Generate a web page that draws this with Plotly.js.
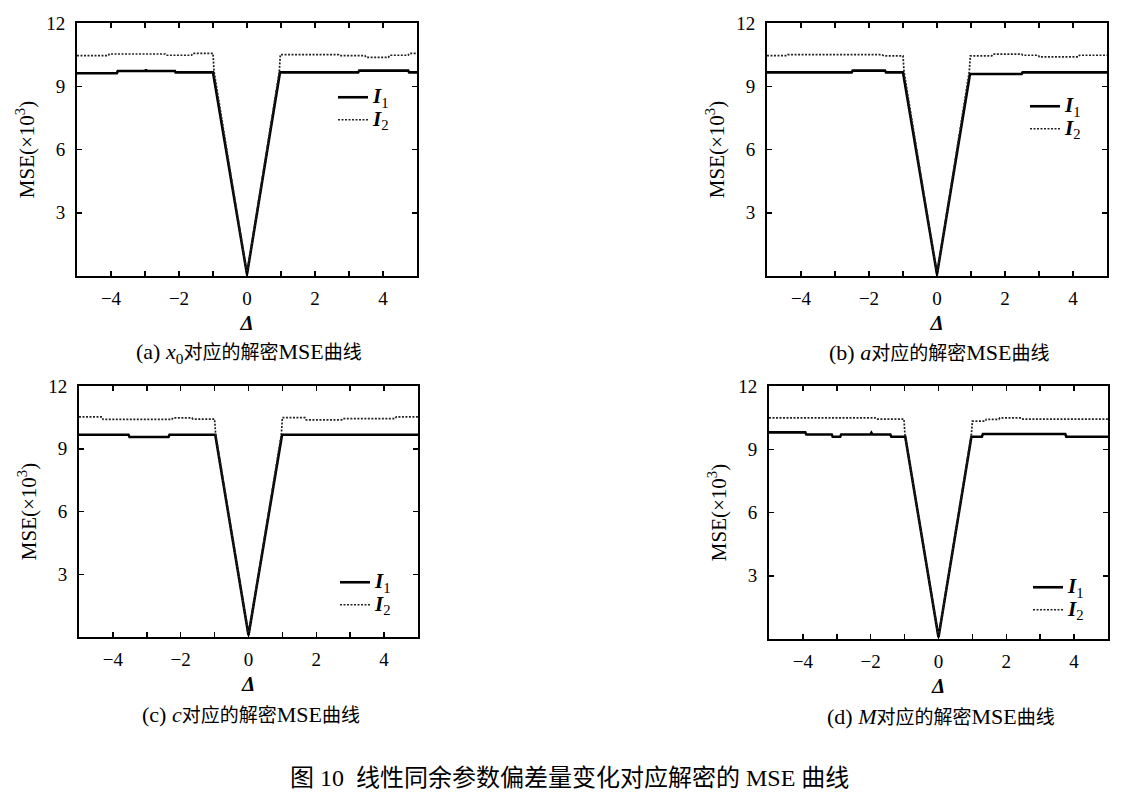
<!DOCTYPE html>
<html>
<head>
<meta charset="utf-8">
<script src="https://cdn.plot.ly/plotly-3.0.1.min.js"></script>
<style>
  html, body { margin: 0; padding: 0; background: #fff; }
  #chart { width: 1131px; height: 800px; }
</style>
</head>
<body>
<div id="chart"></div>
<script>
// ── Datos (MSE ×10^3 frente a Δ) ──────────────────────────────────────────
// (a) x0
const xA1 = [-5, -3.83, -3.80, -2.99, -2.97, -2.95, -2.12, -2.10, -1.00, 0, 0.97, 3.27, 3.30, 4.74, 4.77, 5];
const yA1 = [9.62, 9.62, 9.72, 9.72, 9.80, 9.72, 9.72, 9.66, 9.66, 0.08, 9.66, 9.66, 9.74, 9.74, 9.66, 9.66];
const xA2 = [-5, -4.08, -4.05, -2.41, -2.38, -1.63, -1.60, -1.00, -0.97, 0, 0.95, 0.98, 2.69, 2.72, 3.47, 3.50, 4.16, 4.19, 4.74, 4.77, 5];
const yA2 = [10.45, 10.45, 10.53, 10.53, 10.47, 10.47, 10.56, 10.56, 9.72, 0.1, 9.7, 10.50, 10.50, 10.45, 10.45, 10.37, 10.37, 10.47, 10.47, 10.56, 10.56];

// (b) a
const xB1 = [-5, -2.51, -2.48, -1.53, -1.50, -1.00, 0, 0.97, 2.49, 2.52, 5];
const yB1 = [9.66, 9.66, 9.74, 9.74, 9.66, 9.66, 0.08, 9.58, 9.58, 9.66, 9.66];
const xB2 = [-5, -4.42, -4.39, -1.63, -1.55, -1.00, -0.97, 0, 0.95, 0.98, 1.61, 1.64, 2.49, 2.52, 2.98, 3.01, 4.16, 4.19, 5];
const yB2 = [10.45, 10.45, 10.50, 10.50, 10.44, 10.44, 9.7, 0.1, 9.7, 10.44, 10.44, 10.52, 10.52, 10.47, 10.47, 10.39, 10.39, 10.47, 10.47];

// (c) c
const xC1 = [-5, -3.54, -3.51, -2.36, -2.33, -0.98, 0, 0.99, 5];
const yC1 = [9.67, 9.67, 9.56, 9.56, 9.67, 9.67, 0.08, 9.67, 9.67];
const xC2 = [-5, -4.32, -4.29, -2.26, -2.23, -1.67, -1.64, -1.00, -0.97, 0, 0.97, 1.00, 1.67, 1.70, 2.75, 2.78, 4.33, 4.36, 5];
const yC2 = [10.52, 10.52, 10.40, 10.40, 10.48, 10.48, 10.42, 10.42, 9.7, 0.1, 9.7, 10.49, 10.49, 10.38, 10.38, 10.44, 10.44, 10.52, 10.52];

// (d) M
const xD1 = [-5, -3.93, -3.90, -3.15, -3.12, -2.90, -2.87, -2.01, -1.98, -1.95, -1.42, -1.39, -0.98, 0, 0.97, 1.28, 1.31, 3.74, 3.77, 5];
const yD1 = [9.80, 9.80, 9.70, 9.70, 9.59, 9.59, 9.70, 9.70, 9.78, 9.70, 9.70, 9.59, 9.59, 0.08, 9.59, 9.59, 9.72, 9.72, 9.59, 9.59];
const xD2 = [-5, -1.87, -1.84, -1.02, -0.99, 0, 0.97, 1.00, 1.38, 1.41, 1.78, 1.81, 2.46, 2.49, 5];
const yD2 = [10.49, 10.49, 10.43, 10.43, 9.7, 0.1, 9.7, 10.33, 10.33, 10.42, 10.42, 10.49, 10.49, 10.43, 10.43];

const xTicks     = [-4, -3, -2, -1, 0, 1, 2, 3, 4];
const xTickText  = ['\u22124', '', '\u22122', '', '0', '', '2', '', '4'];
const yTicks     = [3, 6, 9, 12];
const seriesNames = [
  '<span style="font-size:21px"><b><i>I</i></b><sub>1</sub></span>',
  '<span style="font-size:21px"><b><i>I</i></b><sub>2</sub></span>'
];
const LAT = s => '<span style="font-size:22px">' + s + '</span>';
const captions = [
  LAT('(a) <i>x</i><sub>0</sub>') + '对应的解密' + LAT('MSE') + '曲线',
  LAT('(b) <i>a</i>') + '对应的解密' + LAT('MSE') + '曲线',
  LAT('(c) <i>c</i>') + '对应的解密' + LAT('MSE') + '曲线',
  LAT('(d) <i>M</i>') + '对应的解密' + LAT('MSE') + '曲线'
];
const figTitle = '图 10  线性同余参数偏差量变化对应解密的 MSE 曲线';

// ── Estilo ────────────────────────────────────────────────────────────────
const FONT = 'Liberation Serif, "Noto Sans CJK SC", serif';
const W = 1131, H = 800;

const panels = [
  { xs: [xA1, xA2], ys: [yA1, yA2], xd: [77, 417],  yd: [23, 276],    leg: [333, 81] },
  { xs: [xB1, xB2], ys: [yB1, yB2], xd: [767, 1107], yd: [23, 276],   leg: [1025, 90] },
  { xs: [xC1, xC2], ys: [yC1, yC2], xd: [79, 418],  yd: [386, 637],   leg: [335, 566] },
  { xs: [xD1, xD2], ys: [yD1, yD2], xd: [769, 1108], yd: [386, 639],  leg: [1028, 571] }
];

const traces = [];
const layout = {
  width: W, height: H,
  margin: { l: 0, r: 0, t: 0, b: 0 },
  paper_bgcolor: '#fff',
  plot_bgcolor: '#fff',
  font: { family: FONT, color: '#000', size: 17 },
  showlegend: true,
  annotations: []
};

panels.forEach((p, i) => {
  const n   = i === 0 ? '' : String(i + 1);
  const leg = 'legend' + n;

  traces.push({
    type: 'scatter', mode: 'lines',
    x: p.xs[0], y: p.ys[0], name: seriesNames[0],
    xaxis: 'x' + n, yaxis: 'y' + n, legend: leg,
    line: { color: '#000', width: 2.6 }
  });
  traces.push({
    type: 'scatter', mode: 'lines',
    x: p.xs[1], y: p.ys[1], name: seriesNames[1],
    xaxis: 'x' + n, yaxis: 'y' + n, legend: leg,
    line: { color: '#222', width: 1.7, dash: '2px,1.5px' }
  });

  layout['xaxis' + n] = {
    domain: [p.xd[0] / W, p.xd[1] / W],
    anchor: 'y' + n,
    range: [-5, 5],
    tickvals: xTicks, ticktext: xTickText,
    ticks: 'inside', ticklen: 5, tickwidth: 1.5, tickcolor: '#000',
    ticklabelstandoff: 4,
    showline: true, linewidth: 2, linecolor: '#000', mirror: 'allticks',
    showgrid: false, zeroline: false,
    tickfont: { size: 19 },
    title: { text: '<b><i>Δ</i></b>', font: { size: 21 }, standoff: 8 }
  };
  layout['yaxis' + n] = {
    domain: [1 - p.yd[1] / H, 1 - p.yd[0] / H],
    anchor: 'x' + n,
    range: [0, 12],
    tickvals: yTicks,
    ticks: 'inside', ticklen: 5, tickwidth: 1.5, tickcolor: '#000',
    ticklabelstandoff: 6,
    showline: true, linewidth: 2, linecolor: '#000', mirror: 'allticks',
    showgrid: false, zeroline: false,
    tickfont: { size: 19 },
    title: { text: 'MSE(×10<sup>3</sup>)', font: { size: 21 }, standoff: 6 }
  };
  layout[leg] = {
    x: p.leg[0] / W, y: 1 - p.leg[1] / H,
    xanchor: 'left', yanchor: 'top',
    bgcolor: 'rgba(0,0,0,0)', borderwidth: 0,
    font: { size: 15 }, itemwidth: 30, tracegroupgap: 0
  };
  layout.annotations.push({
    xref: 'paper', yref: 'paper',
    x: ((p.xd[0] + p.xd[1]) / 2 + 2) / W,
    y: 1 - (p.yd[1] + 77) / H,
    xanchor: 'center', yanchor: 'middle',
    showarrow: false, text: captions[i],
    font: { size: 19 }
  });
});

layout.annotations.push({
  xref: 'paper', yref: 'paper',
  x: 569 / W, y: 1 - 778 / H,
  xanchor: 'center', yanchor: 'middle',
  showarrow: false, text: figTitle,
  font: { size: 24 }
});

Plotly.newPlot('chart', traces, layout, { displayModeBar: false, staticPlot: true });
</script>
</body>
</html>
